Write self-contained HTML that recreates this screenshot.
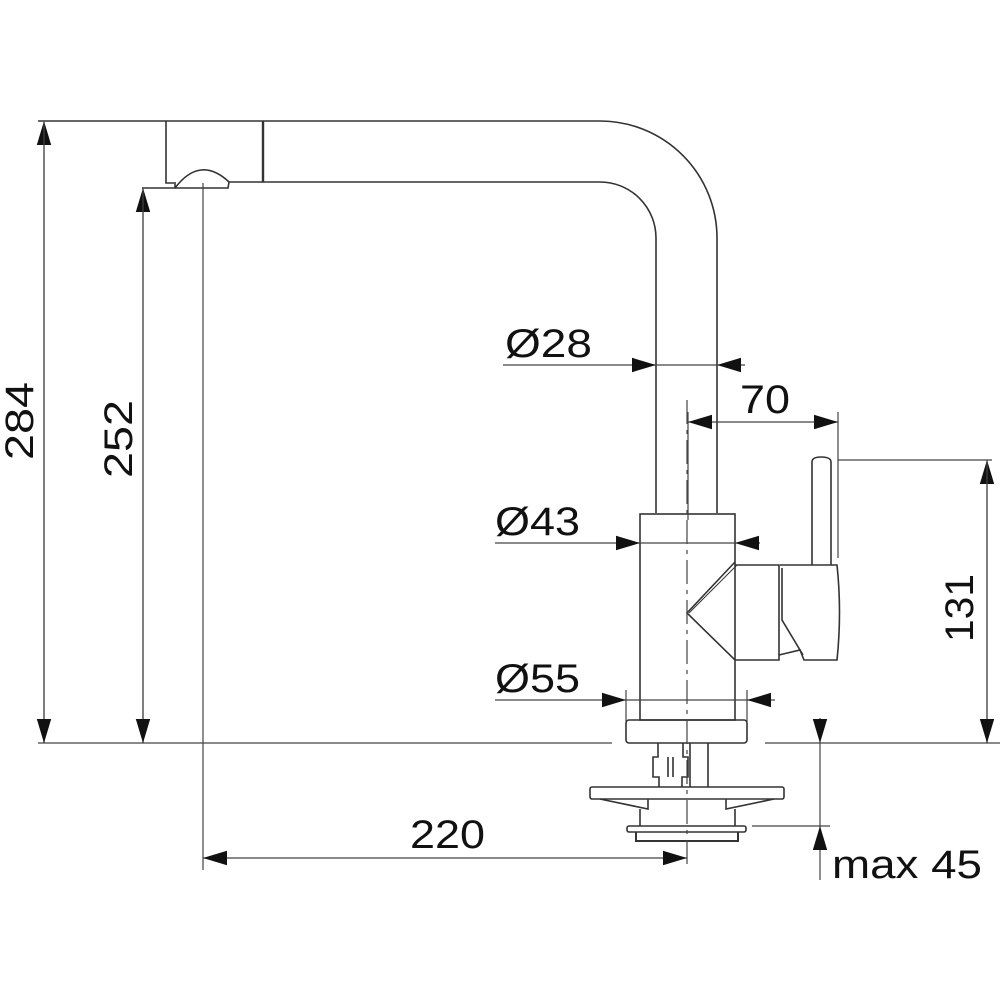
<!DOCTYPE html>
<html><head><style>body{margin:0;background:#fff}svg{display:block}</style></head><body>
<svg width="1000" height="1000" viewBox="0 0 1000 1000" xmlns="http://www.w3.org/2000/svg">
<defs>
<marker id="a" viewBox="0 0 10 10" refX="10" refY="5" markerWidth="24" markerHeight="24" markerUnits="userSpaceOnUse" orient="auto"><path d="M0,2 L10,5 L0,8 Z" fill="#111"/></marker>
</defs>
<g fill="none" stroke="#333" stroke-width="1.6">
<path d="M38 121 H600 A117 117 0 0 1 717 238 V513"/>
<path d="M263 182 H600 A56 56 0 0 1 656 238 V513"/>
<path d="M166 121 V183 H174"/>
<path d="M263 121 V182" stroke-width="2.4"/>
<path d="M175 188 Q200 155 229 182 H263"/>
<path d="M142 188 H175 V182"/>
<path d="M175 188 H228 L229 182"/>
<rect x="640" y="514" width="95" height="206"/>
<rect x="626" y="720" width="121" height="23" rx="3"/>
<path d="M735 562 L687 613 L735 660 H779 V565 H735"/>
<path d="M737 565 L689 613" stroke-width="1"/>
<path d="M780 565 H837 Q842 612 837 660 H804 L800 650 L779 655"/>
<path d="M782 568 V620 L803 655"/>
<path d="M812 565 V462 Q812 457 821 457 Q831 457 831 462 V565"/>
<path d="M658 743 V757 H653 V777 H659 V787 M683 743 V757 H688 V777 H682 V787 M668 757 V777 M673 757 V777"/>
<path d="M690 743 V787 M708 743 V787"/>
<rect x="590" y="787" width="194" height="12" rx="2"/>
<path d="M600 799 L648 809 V799 M774 799 L726 809 V799"/>
<path d="M640 809 V826 M735 809 V826"/>
<rect x="627" y="826" width="119" height="6" rx="2"/>
<path d="M636 832 V841 H738 V832" stroke-width="2"/>
</g>
<g fill="none" stroke="#444" stroke-width="1.2">
<path d="M38 743 H612 M765 743 H1000"/>
<path d="M203 183 V870"/>
<path d="M687 400 V870" stroke-dasharray="24 6 4 6"/>
<path d="M44 743 V121" marker-end="url(#a)"/><path d="M44 121 V743" marker-end="url(#a)"/>
<path d="M143 743 V188" marker-end="url(#a)"/><path d="M143 188 V743" marker-end="url(#a)"/>
<path d="M838 460 H992"/>
<path d="M987 743 V460" marker-end="url(#a)"/><path d="M987 460 V743" marker-end="url(#a)"/>
<path d="M688 412 V520 M838 412 V558"/>
<path d="M760 422 H688" marker-end="url(#a)"/><path d="M760 422 H838" marker-end="url(#a)"/>
<path d="M503 365 H656" marker-end="url(#a)"/><path d="M745 365 H717" marker-end="url(#a)"/>
<path d="M656 365 H717"/>
<path d="M495 543 H640" marker-end="url(#a)"/><path d="M760 543 H735" marker-end="url(#a)"/>
<path d="M640 543 H735"/>
<path d="M626 690 V722 M747 690 V722"/>
<path d="M495 700 H626" marker-end="url(#a)"/><path d="M775 700 H747" marker-end="url(#a)"/>
<path d="M626 700 H747"/>
<path d="M400 858 H203" marker-end="url(#a)"/><path d="M400 858 H687" marker-end="url(#a)"/>
<path d="M752 826 H830"/>
<path d="M820 718 V743" marker-end="url(#a)"/><path d="M820 743 V826"/>
<path d="M820 880 V826" marker-end="url(#a)"/>
</g>
<g font-family="Liberation Sans, Arial, sans-serif" font-size="40" fill="#111" lengthAdjust="spacingAndGlyphs">
<text x="-18" y="421" transform="rotate(-90 33 421)" x-none="" textLength="78" lengthAdjust="spacingAndGlyphs" dx="12">284</text>
<text x="93" y="439" transform="rotate(-90 132 439)" textLength="78" lengthAdjust="spacingAndGlyphs">252</text>
<text x="939" y="608" transform="rotate(-90 973 608)" textLength="68" lengthAdjust="spacingAndGlyphs">131</text>
<text x="505" y="357" textLength="87" lengthAdjust="spacingAndGlyphs">Ø28</text>
<text x="740" y="413" textLength="50" lengthAdjust="spacingAndGlyphs">70</text>
<text x="495" y="535" textLength="85" lengthAdjust="spacingAndGlyphs">Ø43</text>
<text x="495" y="692" textLength="85" lengthAdjust="spacingAndGlyphs">Ø55</text>
<text x="410" y="848" textLength="75" lengthAdjust="spacingAndGlyphs">220</text>
<text x="832" y="878" textLength="150" lengthAdjust="spacingAndGlyphs">max 45</text>
</g>
</svg>
</body></html>
